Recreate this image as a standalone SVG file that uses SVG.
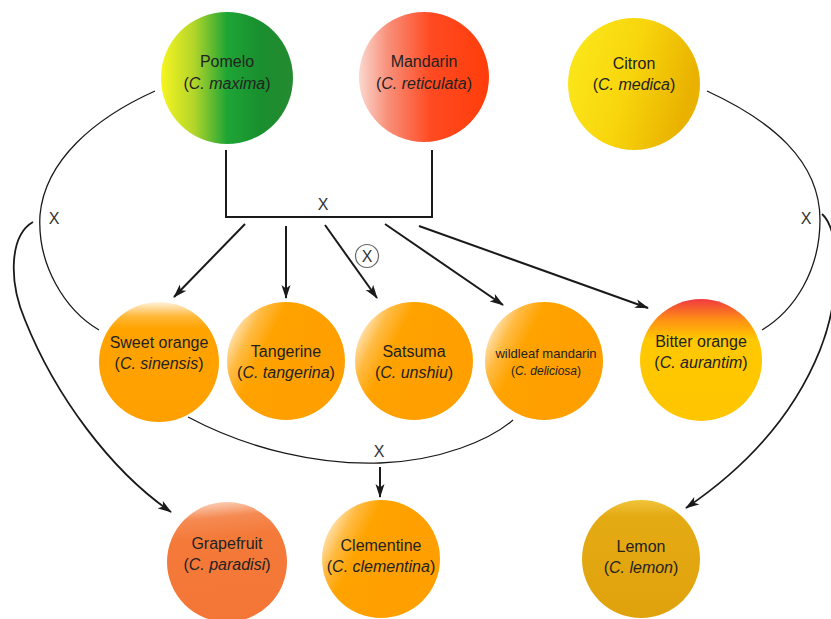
<svg xmlns="http://www.w3.org/2000/svg" width="831" height="619" viewBox="0 0 831 619">
<style>
.t{font-family:"Liberation Sans",Arial,sans-serif;font-size:16px;fill:#222;text-anchor:middle}
.i{font-style:italic}
.s{font-family:"Liberation Sans",Arial,sans-serif;font-size:16px;fill:#333;text-anchor:middle}
.ln{fill:none;stroke:#1a1a1a;stroke-width:1.3}
.ar{fill:none;stroke:#1a1a1a;stroke-width:2;marker-end:url(#ah)}
.br{fill:none;stroke:#1a1a1a;stroke-width:2}
</style>
<defs>
<marker id="ah" markerWidth="14" markerHeight="10" refX="13" refY="5" orient="auto" markerUnits="userSpaceOnUse">
<path d="M0,0.5 L14,5 L0,9.5 L3.5,5 Z" fill="#1a1a1a"/>
</marker>
<linearGradient id="gPom" x1="0" y1="0" x2="1" y2="0">
<stop offset="0" stop-color="#f8f520"/><stop offset="0.25" stop-color="#b2d52a"/><stop offset="0.5" stop-color="#1ea535"/><stop offset="0.75" stop-color="#198f2e"/><stop offset="1" stop-color="#258a30"/>
</linearGradient>
<linearGradient id="gMan" x1="0" y1="0" x2="1" y2="0">
<stop offset="0" stop-color="#fbd8cf"/><stop offset="0.22" stop-color="#f8907a"/><stop offset="0.55" stop-color="#ff4a22"/><stop offset="1" stop-color="#ff3d0a"/>
</linearGradient>
<linearGradient id="gCit" x1="0" y1="0" x2="1" y2="0.3">
<stop offset="0" stop-color="#fbea1c"/><stop offset="0.55" stop-color="#f8d50c"/><stop offset="1" stop-color="#e9b200"/>
</linearGradient>
<linearGradient id="gSw" x1="0" y1="0" x2="0" y2="1">
<stop offset="0" stop-color="#fff2dc"/><stop offset="0.12" stop-color="#ffb838"/><stop offset="0.22" stop-color="#ffa300"/><stop offset="1" stop-color="#ffa000"/>
</linearGradient>
<linearGradient id="gTan" x1="0" y1="0.2" x2="0.6" y2="0.5">
<stop offset="0" stop-color="#fff4e2"/><stop offset="0.3" stop-color="#ffbb44"/><stop offset="0.55" stop-color="#ffa300"/><stop offset="1" stop-color="#ffa000"/>
</linearGradient>
<linearGradient id="gBit" x1="0" y1="0" x2="0" y2="1">
<stop offset="0" stop-color="#f03a40"/><stop offset="0.18" stop-color="#ff9412"/><stop offset="0.33" stop-color="#ffc800"/><stop offset="1" stop-color="#ffc600"/>
</linearGradient>
<linearGradient id="gGra" x1="0.3" y1="0" x2="0.4" y2="1">
<stop offset="0" stop-color="#fbd4be"/><stop offset="0.14" stop-color="#f58a52"/><stop offset="0.3" stop-color="#f47a3a"/><stop offset="1" stop-color="#f47636"/>
</linearGradient>
<linearGradient id="gLem" x1="0" y1="0" x2="0" y2="1">
<stop offset="0" stop-color="#f0c43a"/><stop offset="0.14" stop-color="#e4aa14"/><stop offset="1" stop-color="#e0a20c"/>
</linearGradient>
</defs>

<g id="connectors">
<path class="br" d="M226,150 V217 H432 V150"/>
<path class="ar" d="M245,224 L174,297"/>
<path class="ar" d="M286,226 L286,298"/>
<path class="ar" d="M325,225 L377,298"/>
<path class="ar" d="M385,224 L503,305"/>
<path class="ar" d="M419,226 L648,308"/>
<path class="ln" d="M155,91 C95,118 45,160 40,215 C37,265 65,310 99,330"/>
<path class="ar" style="stroke-width:1.8" d="M33,222 C10,235 8,280 25,320 C55,395 110,470 171,512"/>
<path class="ln" d="M707,91 C770,120 820,160 820,220 C820,270 795,310 762,330"/>
<path class="ar" style="stroke-width:1.8" d="M822,214 C842,232 840,300 820,350 C792,420 742,470 686,508"/>
<path class="ln" d="M188,417 C250,450 320,465 380,463 C440,461 490,440 513,420"/>
<path class="ar" d="M380,467 L380,497"/>
<text class="s" x="323" y="210">X</text>
<text class="s" x="54" y="224">X</text>
<text class="s" x="806" y="224">X</text>
<text class="s" x="379" y="457">X</text>
<circle cx="367" cy="256" r="11.5" fill="#fff" stroke="#666" stroke-width="1.2"/>
<text class="s" x="367" y="261.5">X</text>
</g>

<g id="pomelo"><circle cx="227" cy="78" r="66" fill="url(#gPom)"/>
<text class="t" x="227" y="67">Pomelo</text><text class="t" x="227" y="89">(<tspan class="i">C. maxima</tspan>)</text></g>
<g id="mandarin"><circle cx="424" cy="77" r="65" fill="url(#gMan)"/>
<text class="t" x="424" y="67">Mandarin</text><text class="t" x="424" y="89">(<tspan class="i">C. reticulata</tspan>)</text></g>
<g id="citron"><circle cx="634" cy="84" r="66" fill="url(#gCit)"/>
<text class="t" x="634" y="69">Citron</text><text class="t" x="634" y="90">(<tspan class="i">C. medica</tspan>)</text></g>

<g id="sweet-orange"><circle cx="159" cy="362" r="60" fill="url(#gSw)"/>
<text class="t" x="159" y="348">Sweet orange</text><text class="t" x="159" y="369">(<tspan class="i">C. sinensis</tspan>)</text></g>
<g id="tangerine"><circle cx="286" cy="361" r="59" fill="url(#gTan)"/>
<text class="t" x="286" y="357">Tangerine</text><text class="t" x="286" y="378">(<tspan class="i">C. tangerina</tspan>)</text></g>
<g id="satsuma"><circle cx="414" cy="361" r="59" fill="url(#gTan)"/>
<text class="t" x="414" y="357">Satsuma</text><text class="t" x="414" y="378">(<tspan class="i">C. unshiu</tspan>)</text></g>
<g id="wildleaf-mandarin"><circle cx="544" cy="361" r="59" fill="url(#gTan)"/>
<text class="t" style="font-size:13px" x="546" y="358">wildleaf mandarin</text><text class="t" style="font-size:12px" x="546" y="375">(<tspan class="i">C. deliciosa</tspan>)</text></g>
<g id="bitter-orange"><circle cx="701" cy="360" r="61" fill="url(#gBit)"/>
<text class="t" x="701" y="347">Bitter orange</text><text class="t" x="701" y="368">(<tspan class="i">C. aurantim</tspan>)</text></g>

<g id="grapefruit"><circle cx="227" cy="562" r="60" fill="url(#gGra)"/>
<text class="t" x="227" y="549">Grapefruit</text><text class="t" x="227" y="570">(<tspan class="i">C. paradisi</tspan>)</text></g>
<g id="clementine"><circle cx="381" cy="559" r="59" fill="url(#gTan)"/>
<text class="t" x="381" y="551">Clementine</text><text class="t" x="381" y="572">(<tspan class="i">C. clementina</tspan>)</text></g>
<g id="lemon"><circle cx="641" cy="559" r="59" fill="url(#gLem)"/>
<text class="t" x="641" y="552">Lemon</text><text class="t" x="641" y="573">(<tspan class="i">C. lemon</tspan>)</text></g>
</svg>
